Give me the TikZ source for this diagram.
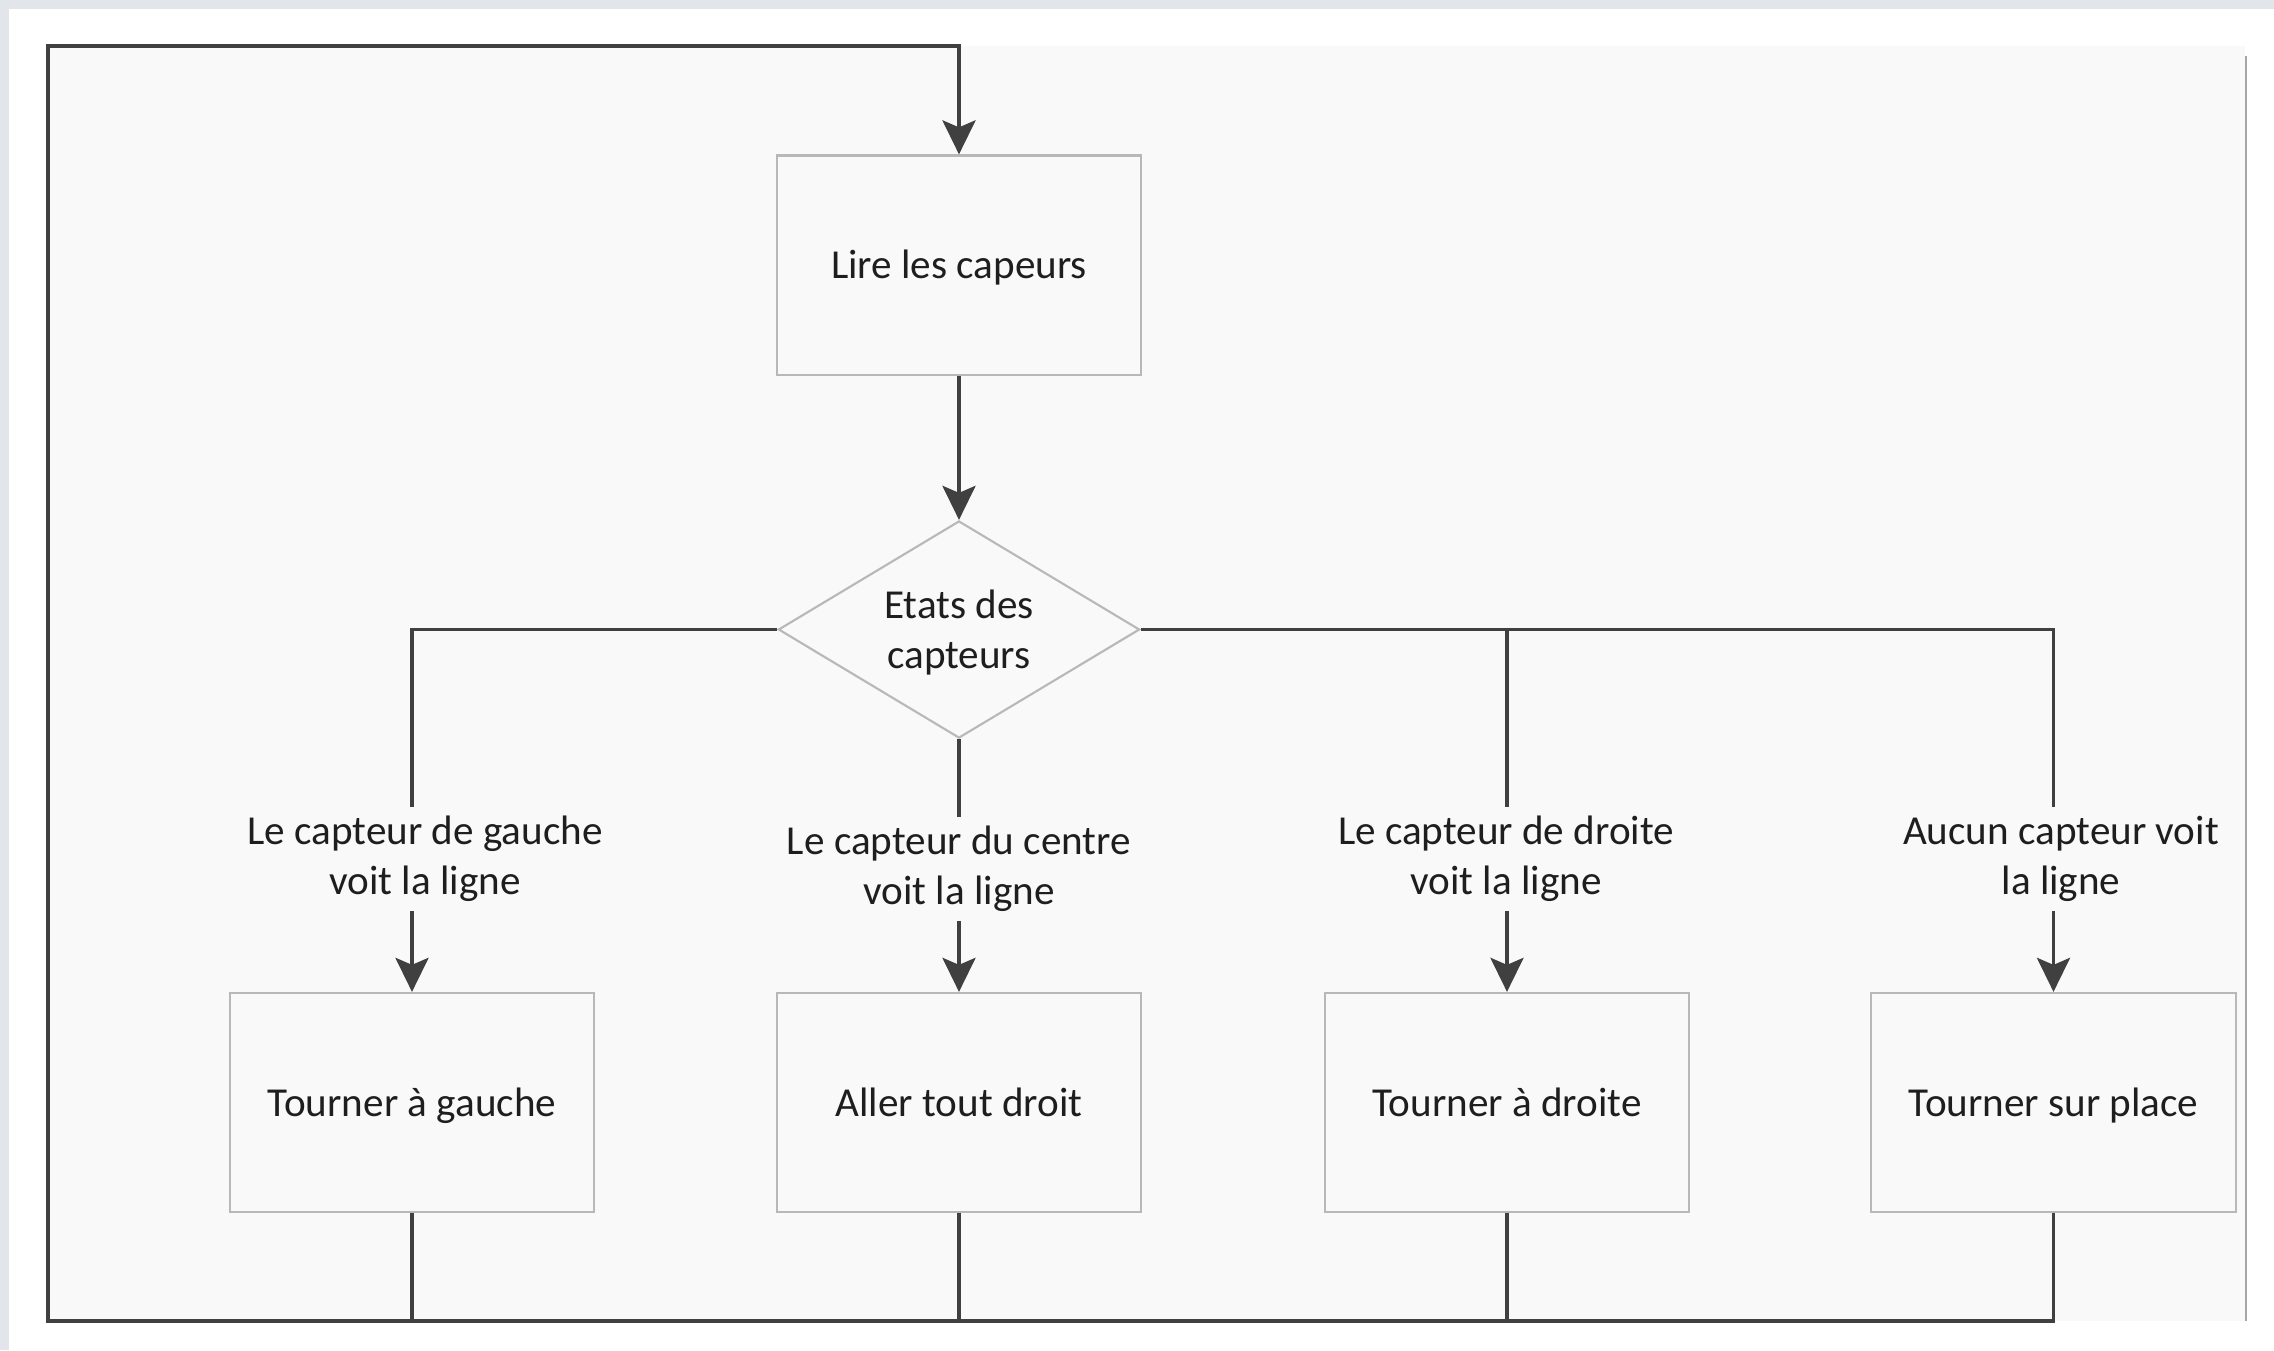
\documentclass[tikz,border=0pt]{standalone}
\usepackage{fontspec}
\setmainfont{Carlito}
\usetikzlibrary{arrows.meta,shapes.geometric,calc}
\definecolor{conncol}{HTML}{404040}
\definecolor{boxcol}{HTML}{B8B8B8}
\definecolor{panelcol}{HTML}{F9F9F9}
\definecolor{stripcol}{HTML}{E2E5E9}
\definecolor{txtcol}{HTML}{1E1E1E}
\begin{document}
\begin{tikzpicture}[x=0.01cm,y=-0.01cm,
  conn/.style={draw=conncol, line width=1.1pt},
  arr/.style={-{Stealth[length=3.4mm,width=3.3mm,inset=0.7mm]}},
  txt/.style={text=txtcol, font=\fontsize{11.7}{14.2}\selectfont},
  box/.style={txt, draw=boxcol, line width=0.6pt, fill=panelcol, minimum width=3.64cm, minimum height=2.19cm, inner sep=0pt, text height=1.85ex, text depth=0.24ex},
  decision/.style={txt, diamond, shape aspect=1.66, draw=boxcol, line width=0.6pt, fill=panelcol, minimum width=3.61cm, minimum height=2.17cm, inner sep=0pt, align=center, text depth=0.4pt},
  lab/.style={txt, align=center, inner sep=2.5pt}
]
\useasboundingbox (0,0) rectangle (2274,1350);
% page background
\fill[white] (0,0) rectangle (2274,1350);
\fill[stripcol] (0,0) rectangle (2274,9);
\fill[stripcol] (0,0) rectangle (9,1350);
\fill[panelcol] (48,46) rectangle (2245,1321);
\draw[black!35, line width=0.6pt] (2246,56) -- (2246,1321);

% nodes
\node[box] (top) at (959,265) {Lire les capeurs};
\node[decision] (d) at (959,629.5) {Etats des\\capteurs};
\node[box] (b1) at (412,1102.5) {Tourner à gauche};
\node[box] (b2) at (959,1102.5) {Aller tout droit};
\node[box] (b3) at (1507,1102.5) {Tourner à droite};
\node[box] (b4) at (2053.5,1102.5) {Tourner sur place};
\node[lab] (l1) at (425,859) {Le capteur de gauche\\voit la ligne};
\node[lab] (l2) at (959,869) {Le capteur du centre\\voit la ligne};
\node[lab] (l3) at (1506,859) {Le capteur de droite\\voit la ligne};
\node[lab] (l4) at (2061,859) {Aucun capteur voit\\la ligne};
\coordinate (bl) at (48,1321);
\coordinate (tl) at (48,46);

% connectors
\draw[conn,arr] (top.south) -- (d.north);
\draw[conn] (d.west) -| (l1.north -| b1.north);
\draw[conn] (d.east) -| (l4.north -| b4.north);
\draw[conn] (d.east -| b3.north) -- (l3.north -| b3.north);
\draw[conn] (d.south) -- (l2.north -| b2.north);
\draw[conn,arr] (l1.south -| b1.north) -- (b1.north);
\draw[conn,arr] (l2.south -| b2.north) -- (b2.north);
\draw[conn,arr] (l3.south -| b3.north) -- (b3.north);
\draw[conn,arr] (l4.south -| b4.north) -- (b4.north);
\draw[conn] (b1.south) -- (b1.south |- bl);
\draw[conn] (b2.south) -- (b2.south |- bl);
\draw[conn] (b3.south) -- (b3.south |- bl);
\draw[conn,arr] (b4.south) |- (bl) -- (tl) -| (top.north);
\end{tikzpicture}
\end{document}
